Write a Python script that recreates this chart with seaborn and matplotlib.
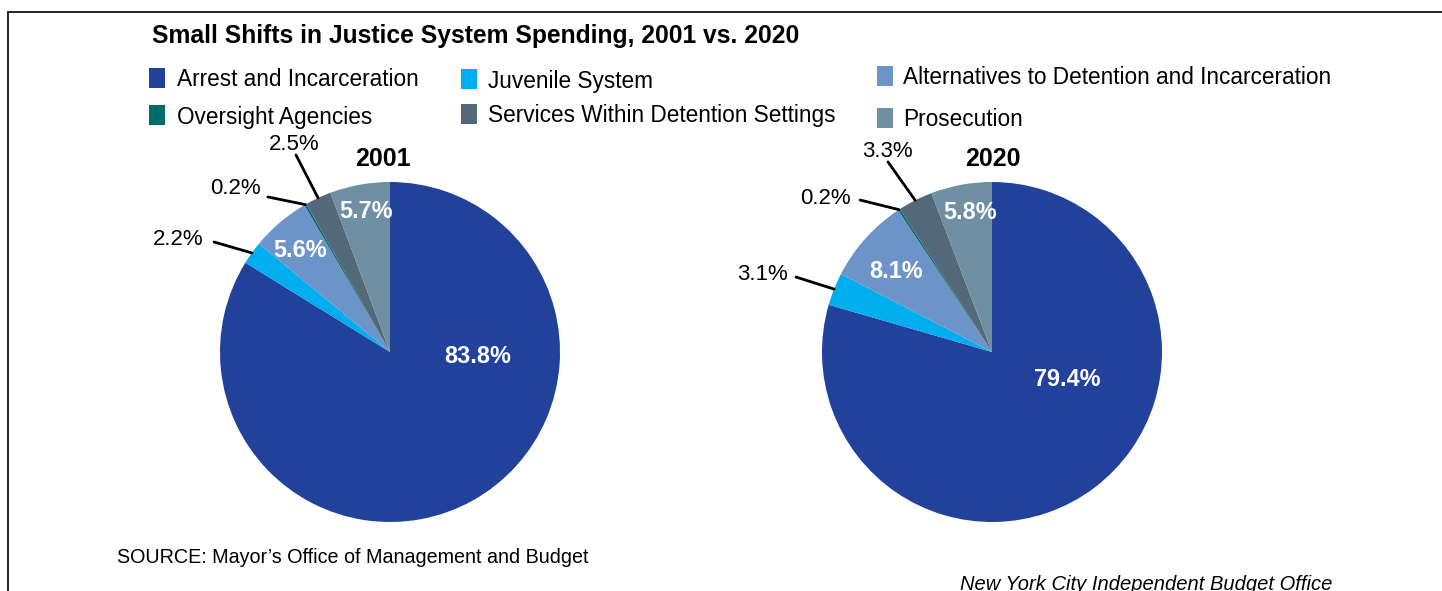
import matplotlib
matplotlib.use("Agg")
import matplotlib.pyplot as plt
import seaborn as sns
import numpy as np
from matplotlib.patches import Rectangle
from matplotlib.lines import Line2D

sns.set_theme(style="white")
plt.rcParams['font.family'] = ['Liberation Sans', 'DejaVu Sans']

# ---- data ----
categories = ["Arrest and Incarceration", "Juvenile System",
              "Alternatives to Detention and Incarceration",
              "Oversight Agencies", "Services Within Detention Settings",
              "Prosecution"]
values_2001 = [83.8, 2.2, 5.6, 0.2, 2.5, 5.7]
values_2020 = [79.4, 3.1, 8.1, 0.2, 3.3, 5.8]
years = ["2001", "2020"]
colors = ["#22419A", "#00AEEF", "#6D94C8", "#006B6B", "#536878", "#6E90A2"]

W, H = 1442, 591
fig = plt.figure(figsize=(W / 100, H / 100), dpi=100)
fig.patch.set_facecolor("white")

def fx(px):
    return px / W

def fy(py):
    return 1 - py / H

# border (left and top)
fig.add_artist(Line2D([fx(8), fx(8)], [fy(12), fy(H + 5)], color="black", lw=1.2))
fig.add_artist(Line2D([fx(8), fx(W + 5)], [fy(12), fy(12)], color="black", lw=1.2))

# title
fig.text(fx(152), fy(36.5), "Small Shifts in Justice System Spending, 2001 vs. 2020",
         fontsize=17.7, fontweight="bold", ha="left", va="center", color="black")

# legend (manual layout)
legend_pos = [  # (square x, center y, text x, text y)
    (149, 78, 177, 79.5),
    (461, 79, 488, 81.5),
    (877, 76, 903, 77.5),
    (149, 115, 177, 117.5),
    (461, 114, 488, 115.5),
    (877, 118, 903, 119.5),
]
for cat, col, (sx, sy, tx, ty) in zip(categories, colors, legend_pos):
    fig.add_artist(Rectangle((fx(sx), fy(sy + 10)), 16 / W, 20 / H,
                             transform=fig.transFigure, facecolor=col, edgecolor="none"))
    fig.text(fx(tx), fy(ty), cat, fontsize=16.3, ha="left", va="center", color="black")

R = 170
centers = [(390, 352), (992, 352)]

inside_labels = [
    {0: (0.518, -0.026), 2: (-0.529, 0.598), 5: (-0.141, 0.827)},
    {0: (0.441, -0.161), 2: (-0.565, 0.474), 5: (-0.129, 0.821)},
]
outside_labels = [
    {1: ((-1.247, 0.662), (-1.035, 0.647)),
     3: ((-0.912, 0.963), (-0.718, 0.912)),
     4: ((-0.565, 1.221), (-0.553, 1.159))},
    {1: ((-1.353, 0.457), (-1.153, 0.441)),
     3: ((-0.982, 0.904), (-0.776, 0.894)),
     4: ((-0.618, 1.180), (-0.612, 1.118))},
]
year_pos = [(383, 159.5), (993, 159.5)]

for k, (vals, (cx, cy)) in enumerate(zip([values_2001, values_2020], centers)):
    ax = fig.add_axes([fx(cx - R), fy(cy + R), 2 * R / W, 2 * R / H])
    wedges, _ = ax.pie(vals, colors=colors, startangle=90, counterclock=False,
                       radius=1, wedgeprops=dict(linewidth=0))
    ax.set_xlim(-1, 1)
    ax.set_ylim(-1, 1)
    ax.set_aspect("equal")
    ax.axis("off")
    for idx, (tx, ty) in inside_labels[k].items():
        ax.text(tx, ty, f"{vals[idx]:.1f}%", color="white", fontsize=16.8,
                fontweight="bold", ha="center", va="center")
    for idx, ((tx, ty), (lx, ly)) in outside_labels[k].items():
        w = wedges[idx]
        mid = np.deg2rad((w.theta1 + w.theta2) / 2)
        ex, ey = 1.0 * np.cos(mid), 1.0 * np.sin(mid)
        ax.add_line(Line2D([lx, ex], [ly, ey], color="black", lw=2, clip_on=False))
        ax.text(tx, ty, f"{vals[idx]:.1f}%", color="black", fontsize=16,
                ha="center", va="center", clip_on=False)
    yx, yy = year_pos[k]
    fig.text(fx(yx), fy(yy), years[k], fontsize=18, fontweight="bold",
             ha="center", va="center", color="black")

fig.text(fx(117), fy(557.5), "SOURCE: Mayor\u2019s Office of Management and Budget",
         fontsize=14.2, ha="left", va="center", color="black")
fig.text(fx(960), fy(584), "New York City Independent Budget Office",
         fontsize=14.5, style="italic", ha="left", va="center", color="black")

fig.savefig("out.png", dpi=100, facecolor="white")
